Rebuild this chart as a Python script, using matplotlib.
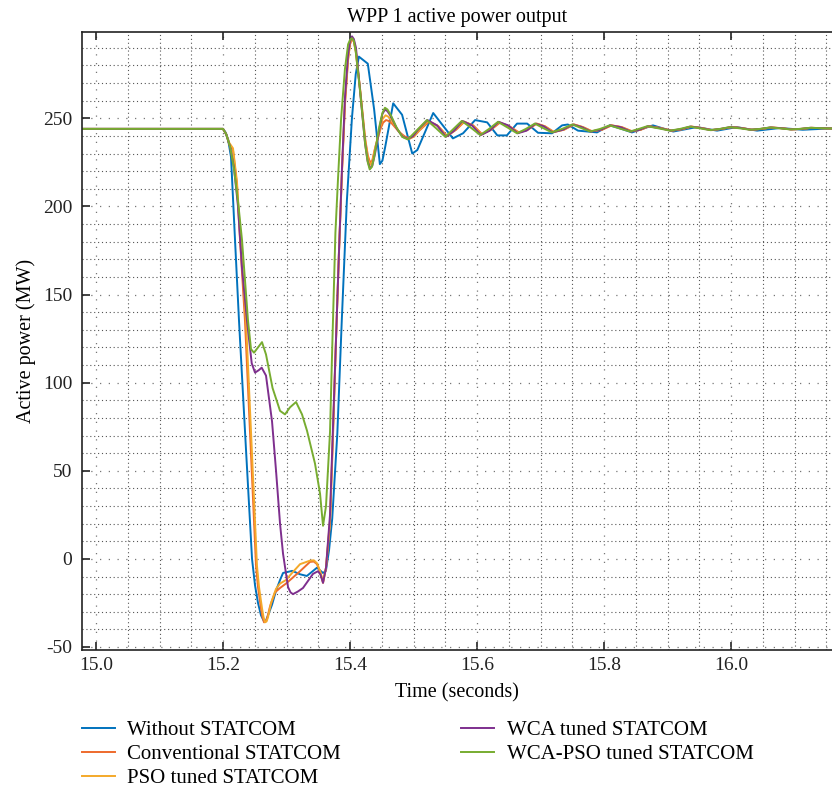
import matplotlib.pyplot as plt
from matplotlib.ticker import MultipleLocator, FormatStrFormatter

plt.rcParams['font.family'] = ['Liberation Serif', 'DejaVu Serif']
plt.rcParams['axes.unicode_minus'] = False

series_names = ["Without STATCOM", "Conventional STATCOM", "PSO tuned STATCOM",
                "WCA tuned STATCOM", "WCA-PSO tuned STATCOM"]
series_colors = ["#0072BD", "#EE6A2C", "#F4A92A", "#7E2F8E", "#77AC30"]

# time (s) / active power (MW)
t_without = [14.978, 15.200, 15.204, 15.208, 15.2126, 15.2189, 15.2252, 15.2362, 15.2457,
             15.2504, 15.2551, 15.2598, 15.2646, 15.2677, 15.2709, 15.2772, 15.2835, 15.2898,
             15.2945, 15.309, 15.321, 15.332, 15.348, 15.3575, 15.362, 15.367, 15.372, 15.380,
             15.387, 15.395, 15.403, 15.409, 15.414, 15.421, 15.428, 15.438, 15.447, 15.451,
             15.455, 15.468, 15.482, 15.498, 15.506, 15.531, 15.562, 15.578, 15.597, 15.616,
             15.632, 15.647, 15.663, 15.679, 15.696, 15.718, 15.734, 15.743, 15.759, 15.789,
             15.809, 15.825, 15.844, 15.877, 15.909, 15.946, 15.978, 16.009, 16.041, 16.077,
             16.113, 16.159]
p_without = [244, 244, 242, 238, 228, 181, 135, 62, 0,
             -15, -25, -32, -35.5, -35, -32, -26, -18, -12,
             -8, -6.8, -8.7, -9.7, -5, -8, -6.8, 5, 23, 71,
             135, 203, 250, 275, 285, 283, 281, 255, 224, 226,
             233, 258.5, 252, 230, 232, 253, 238.6, 241.5, 249, 247.7,
             240.3, 240.3, 247, 247, 241.8, 241.5, 246, 246.5, 243, 242,
             246, 244.3, 242, 246, 242.5, 245, 243, 245, 243, 244.5,
             243.5, 244.3]

t_conv = [14.978, 15.200, 15.205, 15.210, 15.2157, 15.222, 15.2268, 15.2346, 15.2425, 15.252,
          15.2551, 15.2598, 15.2622, 15.2646, 15.2670, 15.2693, 15.274, 15.2819, 15.2898,
          15.2992, 15.3087, 15.3213, 15.337, 15.343, 15.348, 15.353, 15.3575, 15.3622, 15.3685,
          15.3732, 15.378, 15.3827, 15.3874, 15.3921, 15.3969, 15.400, 15.4031, 15.406, 15.409,
          15.416, 15.424, 15.428, 15.4315, 15.435, 15.440, 15.448, 15.452, 15.4567, 15.461,
          15.466, 15.478, 15.487, 15.4945, 15.501, 15.509, 15.524, 15.539, 15.553, 15.567,
          15.580, 15.594, 15.608, 15.622, 15.636, 15.651, 15.666, 15.680, 15.694, 15.707,
          15.721, 15.737, 15.753, 15.767, 15.781, 15.797, 15.812, 15.828, 15.844, 15.858,
          15.871, 15.889, 15.907, 15.923, 15.938, 15.954, 15.970, 15.986, 16.001, 16.017,
          16.033, 16.049, 16.064, 16.080, 16.096, 16.112, 16.127, 16.159]
p_conv = [244, 244, 241, 235, 232, 212, 181, 135, 72, -4,
          -16, -28, -33, -36, -35.5, -34, -27, -19, -16.5,
          -14, -11, -7, -1.7, -1.5, -3, -7.5, -13.6, -5, 20,
          70, 125, 175, 220, 258, 283, 292, 295, 293.5, 288,
          266, 238, 229, 225, 226, 234, 244, 247.5, 249, 248.5,
          247, 242, 239.5, 238.6, 239.8, 243, 248, 245.5, 240, 243.5,
          248, 246, 241, 243.5, 247.5, 245.5, 242, 243.5, 247, 245.5,
          242.3, 243.5, 246.5, 245, 242.7, 243.5, 246, 245, 242.7, 243.5,
          245.5, 244.5, 243, 243.8, 245.3, 244.5, 243.3, 244, 245, 244.5,
          243.5, 244, 244.8, 244.4, 243.7, 244, 244.6, 244.2]

t_pso = [14.978, 15.200, 15.205, 15.210, 15.2157, 15.222, 15.2268, 15.2362, 15.2441, 15.2535,
         15.2567, 15.2614, 15.2638, 15.2662, 15.2686, 15.2709, 15.2756, 15.2835, 15.2898,
         15.2992, 15.3087, 15.3213, 15.337, 15.343, 15.348, 15.353, 15.3575, 15.3622, 15.3685,
         15.3732, 15.378, 15.3827, 15.3874, 15.3921, 15.3969, 15.400, 15.4031, 15.406, 15.409,
         15.416, 15.424, 15.428, 15.4315, 15.435, 15.439, 15.447, 15.451, 15.4560, 15.460,
         15.465, 15.476, 15.485, 15.4930, 15.500, 15.508, 15.523, 15.538, 15.552, 15.566,
         15.579, 15.593, 15.607, 15.621, 15.635, 15.650, 15.665, 15.679, 15.693, 15.706,
         15.720, 15.736, 15.752, 15.766, 15.780, 15.796, 15.811, 15.827, 15.843, 15.857,
         15.870, 15.888, 15.906, 15.922, 15.937, 15.953, 15.969, 15.985, 16.000, 16.016,
         16.032, 16.048, 16.063, 16.079, 16.095, 16.111, 16.126, 16.159]
p_pso = [244, 244, 241, 236, 233, 214, 185, 135, 72, -4,
         -16, -28, -33, -36, -35.5, -33, -25, -17, -14,
         -12, -8, -3, -1, -0.8, -2.5, -7, -13, -5, 22,
         72, 125, 175, 221, 260, 284, 292.5, 295.5, 294, 289,
         266, 237, 227.5, 223.5, 225, 232, 244, 249.5, 251.7, 251,
         249, 243, 239.2, 238.3, 239.6, 243, 248.5, 245.8, 239.8, 243.5,
         248.2, 246, 240.8, 243.5, 247.7, 245.5, 241.8, 243.5, 247, 245.5,
         242.2, 243.5, 246.5, 245, 242.6, 243.5, 246, 245, 242.6, 243.5,
         245.5, 244.5, 243, 243.8, 245.3, 244.5, 243.3, 244, 245, 244.5,
         243.5, 244, 244.8, 244.4, 243.7, 244, 244.6, 244.2]

t_wca = [14.978, 15.200, 15.205, 15.211, 15.2173, 15.2236, 15.2299, 15.2378, 15.2452, 15.2504,
         15.2560, 15.2609, 15.2677, 15.2772, 15.2835, 15.2898, 15.2945, 15.3024, 15.3063,
         15.3102, 15.318, 15.326, 15.3417, 15.3496, 15.3536, 15.3575, 15.3622, 15.3685,
         15.3732, 15.378, 15.3827, 15.3874, 15.3921, 15.3969, 15.400, 15.4031, 15.406, 15.4094,
         15.4157, 15.4236, 15.4275, 15.4315, 15.435, 15.4394, 15.4472, 15.451, 15.4551, 15.459,
         15.4646, 15.474, 15.483, 15.4913, 15.499, 15.507, 15.522, 15.537, 15.551, 15.564,
         15.577, 15.592, 15.606, 15.620, 15.634, 15.649, 15.664, 15.678, 15.692, 15.705,
         15.719, 15.735, 15.751, 15.765, 15.779, 15.795, 15.810, 15.826, 15.842, 15.856,
         15.869, 15.887, 15.905, 15.921, 15.936, 15.952, 15.968, 15.984, 15.999, 16.015,
         16.031, 16.047, 16.062, 16.078, 16.094, 16.110, 16.125, 16.159]
p_wca = [244, 244, 241, 234, 222, 200, 165, 135, 111, 105.7,
         107, 108.5, 104, 78, 50, 20, 3, -16, -19,
         -20, -18.5, -16.5, -8.5, -7, -9, -13.6, -5, 25,
         75, 125, 175, 222, 262, 286, 293.5, 296.5, 295, 290,
         266, 236, 226, 221.5, 223, 230, 246, 252.5, 255, 254,
         251, 244, 239.5, 238.3, 239.8, 243.5, 249, 246, 239.5, 243,
         248.5, 246, 240.5, 243, 248, 246, 241.5, 243, 247, 245.5,
         242, 243.5, 246.5, 245, 242.5, 243.5, 246, 245, 242.5, 243.5,
         245.5, 244.5, 243, 243.8, 245.3, 244.5, 243.3, 244, 245, 244.5,
         243.5, 244, 244.8, 244.4, 243.7, 244, 244.6, 244.2]

t_wcapso = [14.978, 15.200, 15.205, 15.211, 15.217, 15.2236, 15.2299, 15.2394, 15.2441,
            15.2488, 15.2551, 15.2614, 15.2677, 15.278, 15.2898, 15.2976, 15.3055, 15.315,
            15.3244, 15.3323, 15.3449, 15.3528, 15.3575, 15.3622, 15.3685, 15.372, 15.377,
            15.381, 15.386, 15.392, 15.397, 15.400, 15.403, 15.406, 15.409, 15.416, 15.424,
            15.428, 15.431, 15.4345, 15.438, 15.446, 15.451, 15.455, 15.459, 15.464, 15.473,
            15.482, 15.491, 15.506, 15.521, 15.536, 15.550, 15.563, 15.576, 15.591, 15.605,
            15.619, 15.633, 15.648, 15.663, 15.677, 15.691, 15.704, 15.718, 15.734, 15.750,
            15.764, 15.778, 15.794, 15.809, 15.825, 15.841, 15.855, 15.868, 15.886, 15.904,
            15.920, 15.935, 15.951, 15.967, 15.983, 15.998, 16.014, 16.030, 16.046, 16.061,
            16.077, 16.093, 16.109, 16.124, 16.159]
p_wcapso = [244, 244, 241, 234, 222, 203, 181, 135, 119,
            117, 120, 123, 116, 97, 84, 82, 86, 89,
            82, 72.7, 54, 37, 18.8, 30, 72, 120, 185,
            215, 250, 278, 292, 294.5, 295.5, 294, 288, 265, 235,
            225, 221, 222.5, 228, 245, 253, 256, 255, 252, 245,
            239.5, 238, 243.5, 249, 244.2, 239.5, 244, 248.5, 244.5, 240.5,
            244, 248, 244.8, 241.5, 244, 247, 244.5, 242, 244, 246.5,
            244.5, 242.5, 244, 246, 244.2, 242.5, 244, 245.5, 244.3, 243,
            244, 245.3, 244.3, 243.3, 244, 245, 244.3, 243.5, 244, 244.8,
            244.3, 243.7, 244, 244.6, 244.2]

times = [t_without, t_conv, t_pso, t_wca, t_wcapso]
powers = [p_without, p_conv, p_pso, p_wca, p_wcapso]

fig = plt.figure(figsize=(8.32, 7.95), dpi=100)
ax = fig.add_axes([0.0986, 0.1824, 0.9014, 0.7774])

for t, p, name, color in zip(times, powers, series_names, series_colors):
    ax.plot(t, p, color=color, lw=1.4, label=name, solid_joinstyle='round')

ax.set_xlim(14.978, 16.159)
ax.set_ylim(-51.7, 299)
ax.xaxis.set_major_locator(MultipleLocator(0.2))
ax.xaxis.set_minor_locator(MultipleLocator(0.05))
ax.yaxis.set_major_locator(MultipleLocator(50))
ax.yaxis.set_minor_locator(MultipleLocator(10))
ax.xaxis.set_major_formatter(FormatStrFormatter('%.1f'))

ax.grid(which='major', color='#777777', ls=(0, (1, 6)), lw=0.9)
ax.grid(which='minor', color='#555555', ls=(0, (1, 2.5)), lw=0.8)
ax.set_axisbelow(True)
ax.tick_params(which='major', direction='in', length=6, width=1.2, top=True,
               right=False, labelsize=14, colors='#222222')
ax.tick_params(axis='y', pad=7)
ax.tick_params(axis='x', pad=5)
ax.tick_params(which='minor', length=0)
ax.spines['right'].set_visible(False)
for s in ['left', 'bottom', 'top']:
    ax.spines[s].set_linewidth(1.2)
    ax.spines[s].set_color('#222222')

ax.set_title('WPP 1 active power output', fontsize=14.5, pad=7)
ax.set_xlabel('Time (seconds)', fontsize=14.5, labelpad=7)
ax.set_ylabel('Active power (MW)', fontsize=14.5, labelpad=5)

fig.legend(loc='upper left', bbox_to_anchor=(0.098, 0.0937), ncol=2, frameon=False,
           fontsize=15, handlelength=1.6, handletextpad=0.6, columnspacing=5.75,
           labelspacing=0.22, borderpad=0, borderaxespad=0)

fig.savefig('out.png', dpi=100)
